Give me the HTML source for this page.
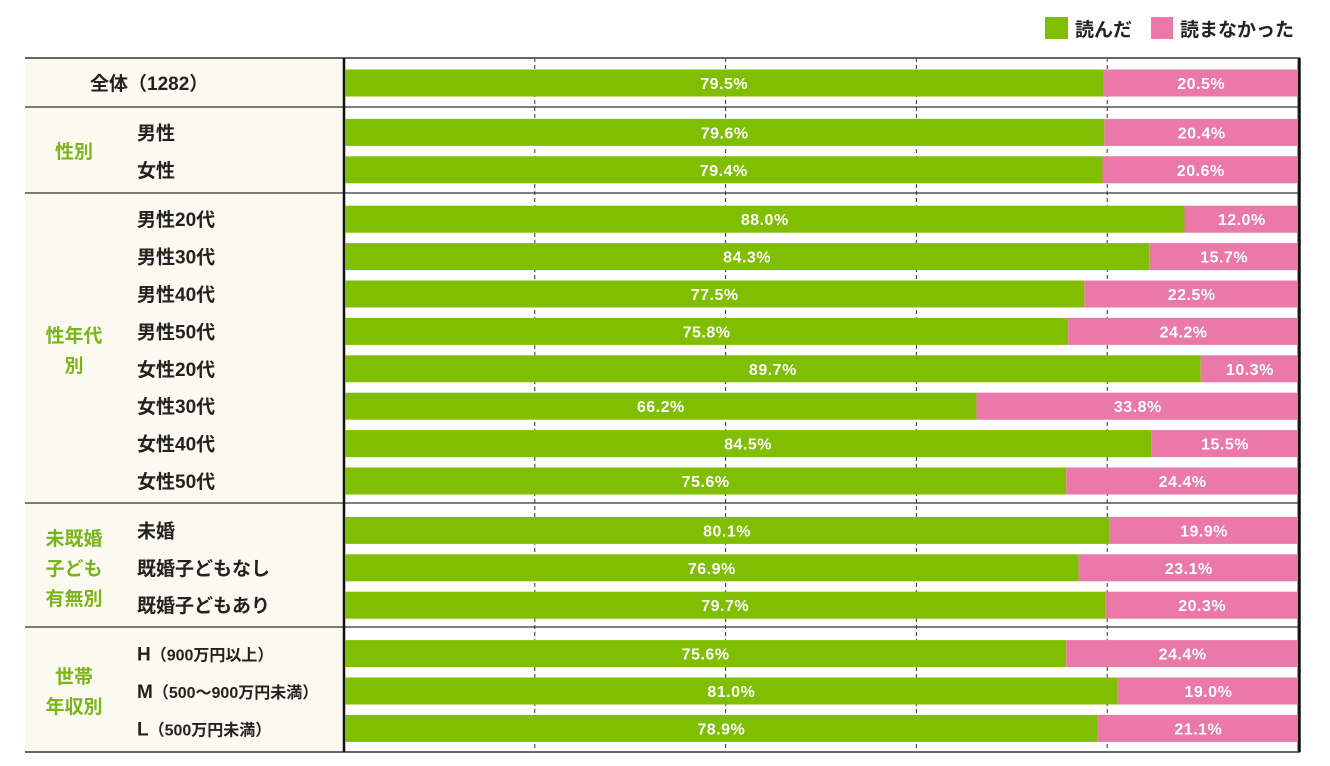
<!DOCTYPE html>
<html><head><meta charset="utf-8"><style>
body{margin:0;background:#fff}
svg text{font-family:"Liberation Sans","Noto Sans CJK JP",sans-serif;font-weight:bold}
</style></head><body>
<svg id="chart" width="1330" height="761" xmlns="http://www.w3.org/2000/svg">
<rect x="25" y="58" width="318" height="694" fill="#fcf9f0"/>
<g>
<rect x="1045" y="17" width="23" height="22" fill="#7fbe00"/>
<text x="1075" y="36" font-size="19" fill="#222">読んだ</text>
<rect x="1151" y="17" width="22" height="22" fill="#ea78a8"/>
<text x="1180" y="36" font-size="19" fill="#222">読まなかった</text>
</g>
<g id="grid"></g>
<g id="bars"></g>
<g id="labels"></g>
</svg>
<script>
const categories=["全体（1282）","男性","女性","男性20代","男性30代","男性40代","男性50代","女性20代","女性30代","女性40代","女性50代","未婚","既婚子どもなし","既婚子どもあり","H","M","L"];
const readValues=[79.5,79.6,79.4,88.0,84.3,77.5,75.8,89.7,66.2,84.5,75.6,80.1,76.9,79.7,75.6,81.0,78.9];
const notReadValues=[20.5,20.4,20.6,12.0,15.7,22.5,24.2,10.3,33.8,15.5,24.4,19.9,23.1,20.3,24.4,19.0,21.1];
const suffixes=["","","","","","","","","","","","","","","（900万円以上）","（500～900万円未満）","（500万円未満）"];
const groupNames=[["全体"],["性別"],["性年代","別"],["未既婚","子ども","有無別"],["世帯","年収別"]];
const groupStarts=[0,1,3,11,14];
const gridTicks=[20,40,60,80,100];
const NS="http://www.w3.org/2000/svg";
const X0=345,W=954;
const x=v=>X0+v/100*W;
const rowY=i=>83+i*37.4+(i>=1?12:0)+(i>=3?12:0)+(i>=11?12:0)+(i>=14?11:0);
function el(t,a,p){const e=document.createElementNS(NS,t);for(const k in a)e.setAttribute(k,a[k]);document.getElementById(p).appendChild(e);return e;}
gridTicks.forEach(t=>{const l=el("line",{x1:x(t)-1,x2:x(t)-1,y1:58,y2:752,stroke:"#333","stroke-width":1,"stroke-dasharray":t===100?"":"4,3"},"grid");

});
const seps=[58,107,193,503,627,752];
seps.forEach((y,i)=>{const l=el("line",{x1:25,x2:1300,y1:y,y2:y,stroke:(i==0||i==5)?"#666":"#333","stroke-width":(i==0||i==5)?2:1.3},"grid");

});
const ax=el("line",{x1:344,x2:344,y1:58,y2:752,stroke:"#111","stroke-width":2.5},"grid");


const rx=el("line",{x1:1299.5,x2:1299.5,y1:58,y2:752,stroke:"#111","stroke-width":2.5},"grid");


categories.forEach((c,i)=>{
 const cy=rowY(i),h=27;
 const g=el("rect",{x:x(0),y:cy-h/2,width:x(readValues[i])-x(0),height:h,fill:"#7fbe00"},"bars");
 
 
 const p=el("rect",{x:x(readValues[i]),y:cy-h/2,width:Math.min(x(readValues[i]+notReadValues[i]),1298)-x(readValues[i]),height:h,fill:"#ea78a8"},"bars");
 
 
 const t1=el("text",{x:(x(0)+x(readValues[i]))/2,y:cy+6,"font-size":16,fill:"#fff","text-anchor":"middle","letter-spacing":"0.5"},"bars");
 t1.textContent=readValues[i].toFixed(1)+"%";
 
 
 const t2=el("text",{x:(x(readValues[i])+x(readValues[i]+notReadValues[i]))/2,y:cy+6,"font-size":16,fill:"#fff","text-anchor":"middle","letter-spacing":"0.5"},"bars");
 t2.textContent=notReadValues[i].toFixed(1)+"%";
 
 
 const lb=el("text",{x:i==0?90:137,y:cy+7,"font-size":19,fill:"#222"},"labels");
 
 
 lb.textContent=c;
 if(suffixes[i]){const ts=document.createElementNS(NS,"tspan");ts.setAttribute("font-size","16");ts.textContent=suffixes[i];lb.appendChild(ts);}
});
groupNames.forEach((gn,k)=>{
 if(k==0)return;
 const s=groupStarts[k],e=(k<groupStarts.length-1?groupStarts[k+1]:categories.length)-1;
 const mid=(rowY(s)+rowY(e))/2;
 gn.forEach((line,j)=>{
  const t=el("text",{x:74,y:mid+7+(j-(gn.length-1)/2)*30,"font-size":19,fill:"#7ab51d","text-anchor":"middle"},"labels");
  t.textContent=line;
  
  
 });
});
</script>
</body></html>
